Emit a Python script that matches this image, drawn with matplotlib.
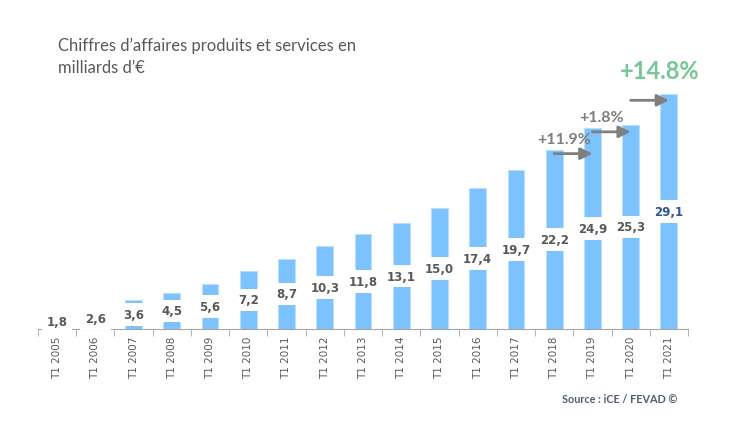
import matplotlib.pyplot as plt
import numpy as np

years = ["T1 2005", "T1 2006", "T1 2007", "T1 2008", "T1 2009", "T1 2010",
         "T1 2011", "T1 2012", "T1 2013", "T1 2014", "T1 2015", "T1 2016",
         "T1 2017", "T1 2018", "T1 2019", "T1 2020", "T1 2021"]
values = [1.8, 2.6, 3.6, 4.5, 5.6, 7.2, 8.7, 10.3, 11.8, 13.1, 15.0, 17.4,
          19.7, 22.2, 24.9, 25.3, 29.1]

# growth arrows: start bar index, arrow height, label
growth_from = [13, 14, 15]
growth_y = [21.7, 24.4, 28.3]
growth_txt = ["+11.9%", "+1.8%", "+14.8%"]

grey = "#595959"
bar_col = "#7CC2FF"

fig = plt.figure(figsize=(7.5, 4.39), dpi=100)
ax = fig.add_axes([0.0507, 0.2483, 0.8666, 0.5522])

x = np.arange(len(values))
ax.bar(x, values, width=0.44, color=bar_col, edgecolor="#B8DEFF", linewidth=0.8, zorder=2)

for i, v in enumerate(values):
    col = "#2F5597" if i == len(values) - 1 else grey
    ax.text(i, v / 2, f"{v:.1f}".replace(".", ","), ha="center", va="center",
            fontsize=8.5, fontweight="bold", color=col, zorder=3,
            bbox=dict(boxstyle="square,pad=0.4", fc="white", ec="none"))

for k, (i0, yy, t) in enumerate(zip(growth_from, growth_y, growth_txt)):
    ax.annotate("", xy=(i0 + 1, yy), xytext=(i0, yy),
                arrowprops=dict(arrowstyle="-|>,head_length=0.7,head_width=0.35",
                                color="#7F7F7F", lw=2.0, shrinkA=0, shrinkB=0),
                zorder=4)
    if k < 2:
        ax.text(i0 + 0.25, yy + 1.85, t, ha="center", va="center", fontsize=11.5,
                fontweight="bold", color="#7F7F7F", family="Lato")
    else:
        ax.text(i0 + 0.76, yy + 3.7, t, ha="center", va="center", fontsize=17,
                fontweight="bold", color="#77C796", family="Lato")

ax.set_xlim(-0.5, len(values) - 0.5)
ax.set_ylim(0, 30)
ax.set_yticks([])
for s in ["top", "right", "left"]:
    ax.spines[s].set_visible(False)
ax.spines["bottom"].set_color("#A6A6A6")
ax.set_xticks(x)
ax.set_xticklabels(years, rotation=90, fontsize=7.5, color=grey)
ax.tick_params(axis="x", which="major", length=0, pad=5)
ax.set_xticks(np.arange(-0.5, len(values), 1.0), minor=True)
ax.tick_params(axis="x", which="minor", length=5, color="#A6A6A6")

fig.text(0.077, 0.915, "Chiffres d\u2019affaires produits et services en\nmilliards d\u2019\u20ac",
         fontsize=12, color=grey, family="Lato", va="top", linespacing=1.45)
fig.text(0.75, 0.09, "Source : iCE / FEVAD \u00a9", fontsize=7.8, color="#4F5F73",
         family="Lato", fontweight="bold", va="center")

fig.savefig("out.png", dpi=100)
